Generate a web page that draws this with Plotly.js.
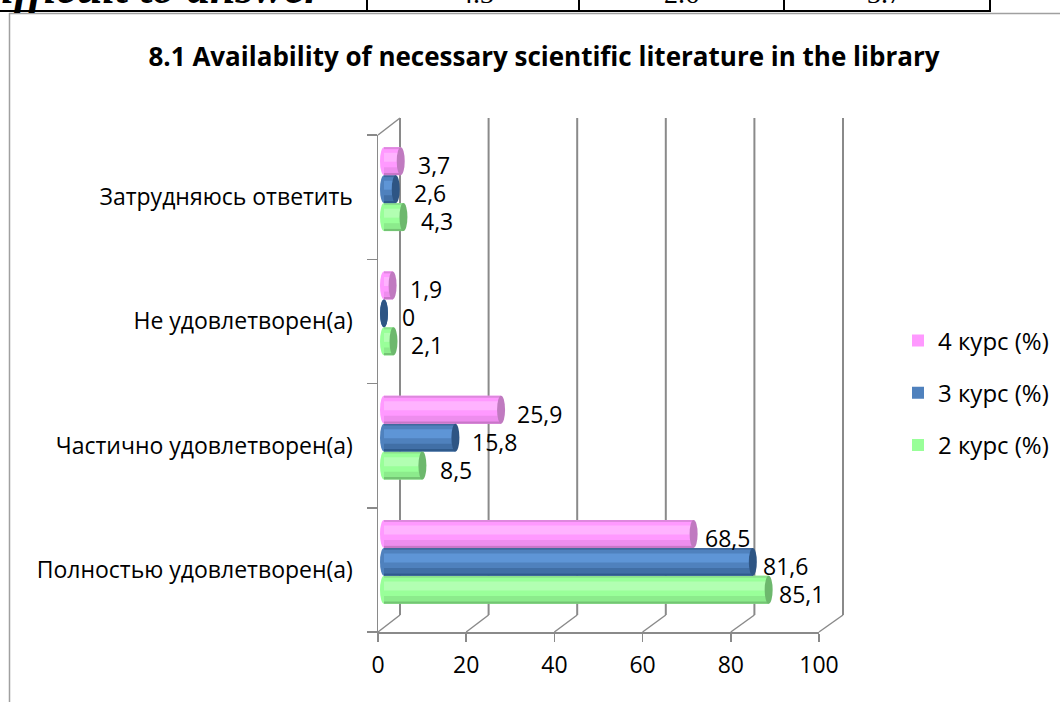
<!DOCTYPE html>
<html>
<head>
<meta charset="utf-8">
<script src="https://cdn.plot.ly/plotly-3.0.1.min.js"></script>
<style>
  html, body { margin: 0; padding: 0; background: #ffffff; }
  #chart { width: 1060px; height: 702px; }
</style>
</head>
<body>
<div id="chart"></div>
<script>
// Answer categories, bottom to top
const categories = [
  'Полностью удовлетворен(а)',
  'Частично удовлетворен(а)',
  'Не удовлетворен(а)',
  'Затрудняюсь ответить'
];
// Share of students per course, %
const course2 = [85.1, 8.5, 2.1, 4.3];
const course3 = [81.6, 15.8, 0, 2.6];
const course4 = [68.5, 25.9, 1.9, 3.7];
const seriesNames = ['2 курс (%)', '3 курс (%)', '4 курс (%)'];
const xTickValues = [0, 20, 40, 60, 80, 100];

// Row of the table that precedes the chart
const tableRowLabel = 'Difficult to answer';
const tableRowCells = ['4.3', '2.6', '3.7'];

const chartTitle = '8.1 Availability of necessary scientific literature in the library';

// ---- styling ----
const FONT = 'Open Sans, Noto Sans, sans-serif';
const AXIS_GREY = '#8a8a8a';
// cylinder shading: bands listed from the bottom edge upward
const seriesStyle = [
  { body: '#99FF99', cap: '#6DB86D',
    bands: [[0, 0.09, '#74C474'], [0.09, 0.28, '#8CEB8C'], [0.48, 0.80, '#B2FFB2'], [0.93, 1, '#8DE08D']] },
  { body: '#4F81BD', cap: '#2E5584',
    bands: [[0, 0.09, '#2F5A8C'], [0.09, 0.28, '#416FA6'], [0.48, 0.80, '#5E95D6'], [0.93, 1, '#41699C']] },
  { body: '#FF99FF', cap: '#C07AC0',
    bands: [[0, 0.09, '#C877C8'], [0.09, 0.28, '#EE8DEE'], [0.48, 0.80, '#FFB3FF'], [0.93, 1, '#DD88DD']] }
];

// plot-area geometry in page pixels
const W = 1060, H = 702;
const L = 378, R = 819, T = 135, B = 632;
const PW = R - L, PH = B - T;
const px = p => (p - L) / PW;       // page x -> paper x
const py = p => (B - p) / PH;       // page y -> paper y

// receding (3-D) wall: back plane offset
const DX = 22, DY = 17;
// bars sit part-way into the depth
const BAR_X0 = 384, BAR_SCALE = 4.52;   // px of value 0 and px per unit
const barRange = [-(BAR_X0 - L) / BAR_SCALE, (R - BAR_X0) / BAR_SCALE];
const catShift = 8 / (PH / categories.length);

const barW = 0.225;
const offsets = [-1.5 * barW, -0.5 * barW, 0.5 * barW].map(o => o + catShift);
const seriesValues = [course2, course3, course4];

const traces = [];
const shapes = [];
const annotations = [];

// anchors the front value axis so its tick labels are drawn
traces.push({ type: 'scatter', mode: 'markers', x: course2, y: categories,
  xaxis: 'x', yaxis: 'y', marker: { opacity: 0, size: 1 }, showlegend: false, hoverinfo: 'skip' });

// back wall grid lines and floor diagonals
const backScale = (843 - 400) / 100;
xTickValues.forEach(v => {
  const fx = L + v * (PW / 100);
  const bx = 400 + v * backScale;
  shapes.push({ type: 'line', xref: 'paper', yref: 'paper', layer: 'below',
    x0: px(bx), x1: px(bx), y0: py(T - DY), y1: py(B - DY),
    line: { color: AXIS_GREY, width: 2 } });
  shapes.push({ type: 'line', xref: 'paper', yref: 'paper', layer: 'below',
    x0: px(fx), x1: px(bx), y0: py(B), y1: py(B - DY),
    line: { color: AXIS_GREY, width: 1.5 } });
});
// top edge of the side wall
shapes.push({ type: 'line', xref: 'paper', yref: 'paper', layer: 'below',
  x0: px(L), x1: px(L + DX), y0: py(T), y1: py(T - DY),
  line: { color: AXIS_GREY, width: 1.5 } });

seriesValues.forEach((vals, k) => {
  const st = seriesStyle[k];
  const o = offsets[k];
  const common = { type: 'bar', orientation: 'h', x: vals, y: categories,
    xaxis: 'x2', yaxis: 'y', hoverinfo: 'skip', legendgroup: 'g' + k };
  // cylinder body
  traces.push(Object.assign({}, common, {
    name: seriesNames[k], showlegend: true, legendrank: 3 - k, offset: o, width: barW,
    marker: { color: st.body, line: { width: 0 } }
  }));
  // shading bands give the rounded look
  st.bands.forEach(([f0, f1, c]) => {
    traces.push(Object.assign({}, common, {
      showlegend: false, offset: o + barW * f0, width: barW * (f1 - f0),
      marker: { color: c, line: { width: 0 } }
    }));
  });

  const capHalf = 4 / BAR_SCALE;
  vals.forEach((v, i) => {
    const y0 = i + o, y1 = i + o + barW;
    // rounded start of the cylinder
    shapes.push({ type: 'circle', xref: 'x2', yref: 'y', layer: 'below',
      x0: -capHalf, x1: capHalf, y0: y0, y1: y1,
      fillcolor: st.body, line: { width: 0 } });
    // end cap
    shapes.push({ type: 'circle', xref: 'x2', yref: 'y', layer: 'above',
      x0: v - capHalf, x1: v + capHalf, y0: y0, y1: y1,
      fillcolor: st.cap, line: { width: 0 } });
    // value label
    annotations.push({ xref: 'x2', yref: 'y', x: v, y: i + o + barW / 2,
      text: String(v).replace('.', ','), showarrow: false,
      xanchor: 'left', yanchor: 'middle', xshift: 16 - 0.095 * v, yshift: -4,
      font: { family: FONT, size: 23, color: '#000' } });
  });
});

// chart frame
shapes.push({ type: 'line', xref: 'paper', yref: 'paper', layer: 'above',
  x0: px(9.5), x1: px(9.5), y0: py(13), y1: py(H + 5), line: { color: '#a0a0a0', width: 1.5 } });
shapes.push({ type: 'line', xref: 'paper', yref: 'paper', layer: 'above',
  x0: px(9), x1: px(W + 5), y0: py(13.5), y1: py(13.5), line: { color: '#a0a0a0', width: 1.5 } });

// table row above the chart
shapes.push({ type: 'line', xref: 'paper', yref: 'paper', layer: 'above',
  x0: px(-5), x1: px(991), y0: py(11), y1: py(11), line: { color: '#000', width: 2 } });
[367, 579, 784, 990].forEach(xp => {
  shapes.push({ type: 'line', xref: 'paper', yref: 'paper', layer: 'above',
    x0: px(xp), x1: px(xp), y0: py(-5), y1: py(11), line: { color: '#000', width: 2 } });
});
annotations.push({ xref: 'paper', yref: 'paper', x: px(326), y: py(15),
  xanchor: 'right', yanchor: 'bottom', showarrow: false, text: '<b><i>' + tableRowLabel + '</i></b>',
  font: { family: 'Liberation Serif, serif', size: 46, color: '#000' } });
[476, 681, 884].forEach((xp, j) => {
  annotations.push({ xref: 'paper', yref: 'paper', x: px(xp), y: py(10.5),
    xanchor: 'center', yanchor: 'bottom', showarrow: false, text: tableRowCells[j],
    font: { family: 'Liberation Serif, serif', size: 28, color: '#000' } });
});

const layout = {
  width: W, height: H,
  margin: { l: L, r: W - R, t: T, b: H - B, pad: 0, autoexpand: false },
  paper_bgcolor: '#ffffff', plot_bgcolor: 'rgba(0,0,0,0)',
  title: { text: '<b>' + chartTitle + '</b>', x: 544 / W, xref: 'container', xanchor: 'center',
    y: 1 - 57 / H, yref: 'container', yanchor: 'middle',
    font: { family: FONT, size: 26, color: '#000' } },
  barmode: 'overlay',
  showlegend: true,
  legend: { x: px(898), xanchor: 'left', y: py(393), yanchor: 'middle',
    traceorder: 'grouped', tracegroupgap: 18,
    font: { family: FONT, size: 24, color: '#000' }, bgcolor: 'rgba(0,0,0,0)' },
  xaxis: { range: [0, 100], tickvals: xTickValues, ticks: 'outside', ticklen: 8,
    tickwidth: 1.5, tickcolor: AXIS_GREY, showline: true, linecolor: AXIS_GREY, linewidth: 1.5,
    showgrid: false, zeroline: false, fixedrange: true, showticklabels: true, ticklabelstandoff: 4,
    tickfont: { family: FONT, size: 23, color: '#000' } },
  xaxis2: { overlaying: 'x', anchor: 'y', range: barRange, visible: false, fixedrange: true },
  yaxis: { type: 'category', categoryorder: 'array', categoryarray: categories,
    range: [-0.5, categories.length - 0.5], ticks: 'outside', tickson: 'boundaries',
    ticklen: 10, tickwidth: 1.5, tickcolor: AXIS_GREY, showline: true, linecolor: AXIS_GREY,
    linewidth: 1.5, showgrid: false, zeroline: false, fixedrange: true, ticklabelstandoff: 19,
    tickfont: { family: FONT, size: 23, color: '#000' } },
  shapes: shapes,
  annotations: annotations
};

Plotly.newPlot('chart', traces, layout, { displayModeBar: false, staticPlot: true });
</script>
</body>
</html>
